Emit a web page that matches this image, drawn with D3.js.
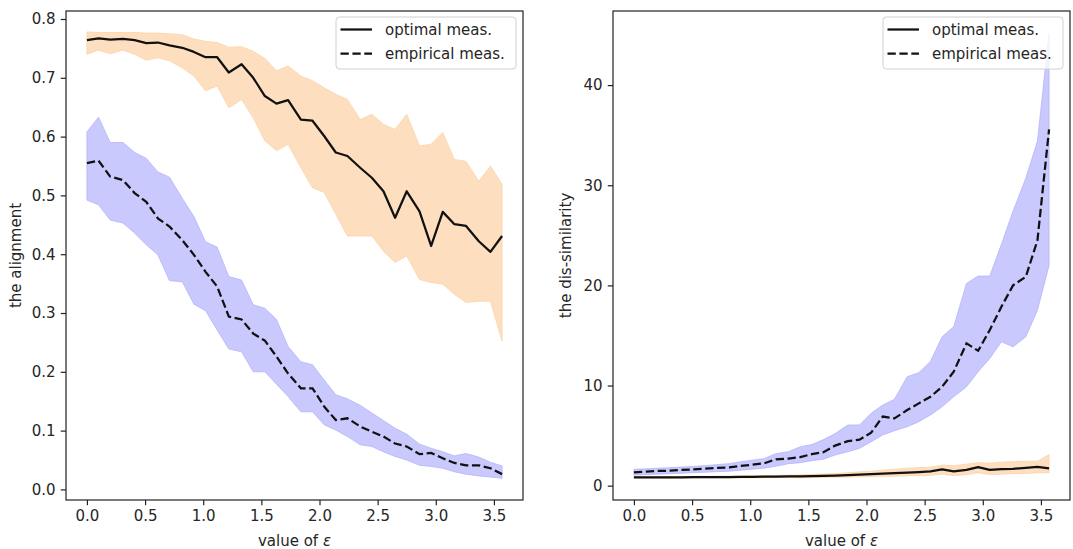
<!DOCTYPE html>
<html>
<head>
<meta charset="utf-8">
<script src="https://cdn.jsdelivr.net/npm/d3@7"></script>
<style>
  body { margin: 0; background: #fff; }
  text { font-family: "DejaVu Sans", sans-serif; }
</style>
</head>
<body>
<script>
// x values (epsilon)
var eps = [0.00,0.10,0.20,0.31,0.41,0.51,0.61,0.71,0.82,0.92,1.02,1.12,1.22,1.33,1.43,1.53,1.63,1.73,
           1.84,1.94,2.04,2.14,2.24,2.35,2.45,2.55,2.65,2.75,2.86,2.96,3.06,3.16,3.26,3.37,3.47,3.57];

// left panel: the alignment
var alignOpt   = [0.764,0.767,0.765,0.766,0.764,0.759,0.760,0.755,0.751,0.744,0.735,0.735,0.709,0.723,0.700,0.669,0.656,0.662,
                  0.629,0.627,0.601,0.573,0.567,0.547,0.530,0.507,0.462,0.507,0.473,0.414,0.472,0.451,0.448,0.422,0.404,0.431];
var alignOptHi = [0.778,0.777,0.777,0.777,0.777,0.776,0.776,0.775,0.773,0.766,0.762,0.760,0.752,0.753,0.745,0.733,0.712,0.720,
                  0.703,0.695,0.683,0.672,0.663,0.629,0.638,0.621,0.612,0.638,0.584,0.587,0.607,0.561,0.558,0.524,0.550,0.519];
var alignOptLo = [0.740,0.747,0.741,0.747,0.740,0.730,0.734,0.729,0.717,0.703,0.678,0.686,0.649,0.663,0.632,0.593,0.576,0.587,
                  0.547,0.513,0.505,0.468,0.431,0.431,0.431,0.405,0.386,0.397,0.357,0.352,0.349,0.332,0.318,0.320,0.320,0.252];
var alignEmp   = [0.555,0.559,0.532,0.526,0.504,0.489,0.461,0.447,0.424,0.399,0.370,0.345,0.294,0.289,0.265,0.253,0.226,0.197,
                  0.172,0.172,0.141,0.118,0.121,0.107,0.098,0.090,0.078,0.073,0.060,0.062,0.053,0.045,0.041,0.041,0.036,0.026];
var alignEmpHi = [0.608,0.633,0.590,0.590,0.573,0.563,0.540,0.531,0.495,0.464,0.421,0.412,0.362,0.356,0.314,0.308,0.289,0.243,
                  0.217,0.212,0.186,0.161,0.154,0.143,0.130,0.117,0.104,0.094,0.077,0.070,0.064,0.057,0.061,0.055,0.046,0.040];
var alignEmpLo = [0.492,0.484,0.458,0.453,0.436,0.416,0.399,0.355,0.353,0.315,0.304,0.271,0.239,0.234,0.200,0.200,0.179,0.158,
                  0.132,0.132,0.110,0.101,0.090,0.076,0.073,0.064,0.056,0.050,0.041,0.039,0.036,0.030,0.026,0.023,0.021,0.019];

// right panel: the dis-similarity
var disOpt   = [0.84,0.84,0.84,0.84,0.84,0.85,0.85,0.86,0.86,0.87,0.88,0.90,0.91,0.93,0.92,0.95,0.98,1.00,
                1.05,1.10,1.15,1.20,1.25,1.30,1.35,1.42,1.62,1.42,1.58,1.85,1.58,1.65,1.68,1.78,1.88,1.72];
var disOptHi = [0.92,0.92,0.92,0.92,0.93,0.93,0.94,0.95,0.96,0.97,0.99,1.00,1.03,1.05,1.08,1.12,1.16,1.20,
                1.30,1.38,1.45,1.55,1.65,1.75,1.80,1.85,2.05,2.00,2.15,2.30,2.25,2.35,2.40,2.45,2.45,3.10];
var disOptLo = [0.76,0.76,0.76,0.76,0.76,0.77,0.77,0.77,0.77,0.78,0.78,0.79,0.80,0.80,0.78,0.81,0.83,0.84,
                0.86,0.88,0.90,0.93,0.95,0.98,1.00,1.03,1.15,1.00,1.10,1.30,1.10,1.15,1.20,1.22,1.30,1.30];
var disEmp   = [1.33,1.40,1.47,1.50,1.57,1.63,1.70,1.77,1.83,1.97,2.10,2.23,2.63,2.70,2.85,3.15,3.35,4.00,
                4.45,4.60,5.30,6.90,6.72,7.55,8.22,8.88,9.88,11.38,14.21,13.47,15.54,17.86,20.00,20.86,24.50,35.57];
var disEmpHi = [1.63,1.68,1.74,1.80,1.86,1.92,2.00,2.10,2.20,2.40,2.55,2.70,3.20,3.40,3.89,4.10,4.60,5.20,
                6.06,6.06,7.23,8.05,8.62,10.88,11.28,12.40,14.87,15.87,20.20,20.93,20.93,24.10,27.40,30.70,34.40,45.20];
var disEmpLo = [1.05,1.10,1.15,1.20,1.25,1.30,1.35,1.40,1.45,1.55,1.65,1.75,1.95,2.20,2.30,2.50,2.65,3.06,
                3.39,3.73,4.39,5.06,5.49,5.89,6.39,7.06,7.88,8.88,9.88,11.38,12.71,14.37,13.87,14.87,17.53,22.00];

// ticks
var xTicks = [0, 0.5, 1, 1.5, 2, 2.5, 3, 3.5];
var xTickLabels = ["0.0","0.5","1.0","1.5","2.0","2.5","3.0","3.5"];
var alignTicks = [0, 0.1, 0.2, 0.3, 0.4, 0.5, 0.6, 0.7, 0.8];
var alignTickLabels = ["0.0","0.1","0.2","0.3","0.4","0.5","0.6","0.7","0.8"];
var disTicks = [0, 10, 20, 30, 40];
var disTickLabels = ["0","10","20","30","40"];
var legendLabels = ["optimal meas.", "empirical meas."];

var W = 1073, H = 549;
var FS = 15;
var orangeFill = "#fddfc0", blueFill = "#c9c9fd";

var svg = d3.select("body").append("svg")
        .attr("width", W)
        .attr("height", H);
svg.append("rect").attr("width", W).attr("height", H).attr("fill", "#fff");

function zip(lo, hi) {
    return eps.map(function(e, i) { return {e: e, lo: lo[i], hi: hi[i]}; });
}
function pts(v) {
    return eps.map(function(e, i) { return {e: e, v: v[i]}; });
}

function drawPanel(p) {
    var x = d3.scaleLinear().domain([-0.18, 3.75]).range([p.left, p.right]);
    var y = d3.scaleLinear().domain(p.ydom).range([p.bottom, p.top]);
    var g = svg.append("g");

    var area = d3.area()
        .x(function(d) { return x(d.e); })
        .y0(function(d) { return y(d.lo); })
        .y1(function(d) { return y(d.hi); });
    var line = d3.line()
        .x(function(d) { return x(d.e); })
        .y(function(d) { return y(d.v); });

    // bands
    g.append("path").datum(zip(p.optLo, p.optHi)).attr("d", area)
        .attr("fill", orangeFill).attr("stroke", "#fbd3a8").attr("stroke-width", 0.8);
    g.append("path").datum(zip(p.empLo, p.empHi)).attr("d", area)
        .attr("fill", blueFill).attr("stroke", "#b4b4fa").attr("stroke-width", 0.8);

    // mean lines
    g.append("path").datum(pts(p.opt)).attr("d", line)
        .attr("fill", "none").attr("stroke", "#111").attr("stroke-width", 2.25)
        .attr("stroke-linejoin", "round");
    g.append("path").datum(pts(p.emp)).attr("d", line)
        .attr("fill", "none").attr("stroke", "#111").attr("stroke-width", 2.25)
        .attr("stroke-dasharray", "8.3,3.6");

    // axes
    var xa = g.append("g").attr("transform", "translate(0," + p.bottom + ")")
        .call(d3.axisBottom(x).tickValues(xTicks)
            .tickFormat(function(d, i) { return xTickLabels[i]; })
            .tickSize(5.25).tickPadding(5.25).tickSizeOuter(0));
    var ya = g.append("g").attr("transform", "translate(" + p.left + ",0)")
        .call(d3.axisLeft(y).tickValues(p.yTicks)
            .tickFormat(function(d, i) { return p.yTickLabels[i]; })
            .tickSize(5.25).tickPadding(5.25).tickSizeOuter(0));
    [xa, ya].forEach(function(a) {
        a.attr("font-size", FS).attr("font-family", "DejaVu Sans");
        a.select(".domain").remove();
        a.selectAll("line").attr("stroke", "#222").attr("stroke-width", 1.2);
        a.selectAll("text").attr("fill", "#262626");
    });

    // spines
    g.append("rect")
        .attr("x", p.left).attr("y", p.top)
        .attr("width", p.right - p.left).attr("height", p.bottom - p.top)
        .attr("fill", "none").attr("stroke", "#222").attr("stroke-width", 1.2);

    // axis labels
    var xl = g.append("text")
        .attr("x", (p.left + p.right) / 2).attr("y", 546)
        .attr("text-anchor", "middle").attr("font-size", FS).attr("fill", "#262626");
    xl.append("tspan").text("value of ");
    xl.append("tspan").attr("font-style", "italic").text("ε");

    g.append("text")
        .attr("transform", "translate(" + p.ylabX + "," + (p.top + p.bottom) / 2 + ") rotate(-90)")
        .attr("text-anchor", "middle").attr("font-size", FS).attr("fill", "#262626")
        .text(p.ylabel);

    // legend
    var lw = 180, lh = 52;
    var lx = p.right - 7 - lw, ly = p.top + 6;
    var leg = g.append("g");
    leg.append("rect").attr("x", lx).attr("y", ly).attr("width", lw).attr("height", lh)
        .attr("rx", 3.5).attr("fill", "#fff").attr("fill-opacity", 0.8)
        .attr("stroke", "#d0d0d0").attr("stroke-width", 1);
    legendLabels.forEach(function(t, i) {
        var cy = ly + 12.5 + i * 24;
        leg.append("line").attr("x1", lx + 4.5).attr("x2", lx + 36)
            .attr("y1", cy).attr("y2", cy)
            .attr("stroke", "#111").attr("stroke-width", 2.25)
            .attr("stroke-dasharray", i === 1 ? "8.3,3.6" : null);
        leg.append("text").attr("x", lx + 49).attr("y", cy + 5.2)
            .attr("font-size", FS).attr("fill", "#262626").text(t);
    });
}

drawPanel({
    left: 66, right: 523, top: 11, bottom: 500,
    ydom: [-0.018, 0.8136],
    yTicks: alignTicks, yTickLabels: alignTickLabels,
    opt: alignOpt, optHi: alignOptHi, optLo: alignOptLo,
    emp: alignEmp, empHi: alignEmpHi, empLo: alignEmpLo,
    ylabel: "the alignment", ylabX: 21
});

drawPanel({
    left: 613, right: 1070, top: 11, bottom: 500,
    ydom: [-1.43, 47.4],
    yTicks: disTicks, yTickLabels: disTickLabels,
    opt: disOpt, optHi: disOptHi, optLo: disOptLo,
    emp: disEmp, empHi: disEmpHi, empLo: disEmpLo,
    ylabel: "the dis-similarity", ylabX: 571
});
</script>
</body>
</html>
